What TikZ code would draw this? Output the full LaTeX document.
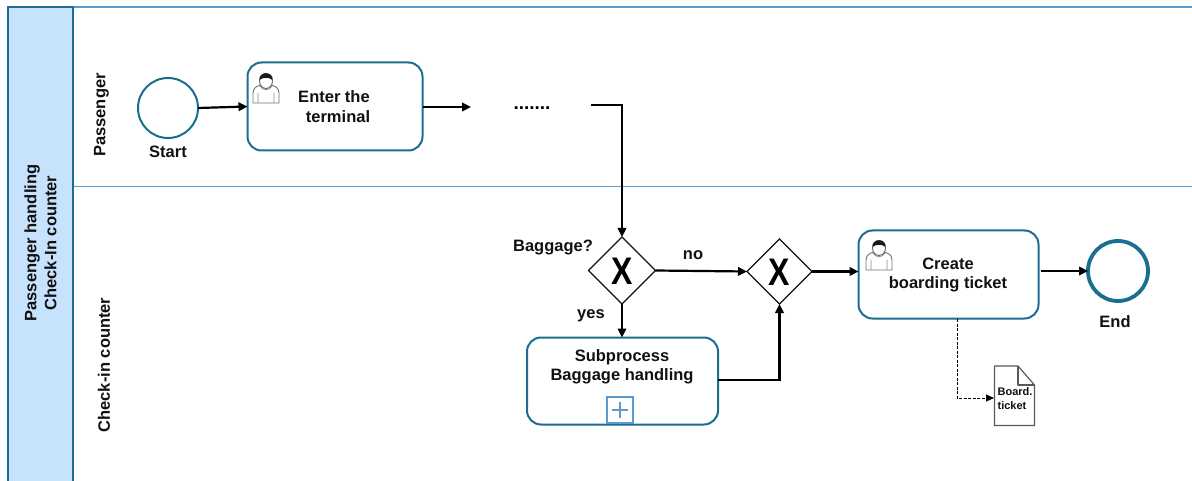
\documentclass[tikz,border=0pt]{standalone}
\usepackage{fontspec}
\setmainfont{Liberation Sans}
\usetikzlibrary{arrows.meta,shapes.geometric}
\definecolor{teal1}{HTML}{1A6E90}
\definecolor{lane}{HTML}{5B9BD0}
\definecolor{head}{HTML}{C6E2FC}
\definecolor{ink}{HTML}{111111}
\tikzset{
  x=1pt,y=-1pt,
  txt/.style={font=\bfseries\fontsize{16.5}{20}\selectfont,text=ink,align=center,inner sep=0pt},
  small/.style={font=\bfseries\fontsize{11}{14}\selectfont,text=ink,align=left,inner sep=0pt},
  task/.style={draw=teal1,line width=2pt,rounded corners=14pt,fill=white,inner sep=0pt,outer sep=0pt,anchor=north west},
  ev/.style={circle,draw=teal1,fill=white,inner sep=0pt,outer sep=0pt},
  gate/.style={diamond,draw=ink,line width=1.1pt,fill=white,inner sep=0pt,outer sep=0pt,aspect=1},
  flow/.style={draw=black,line width=2.2pt,-{Triangle[length=9pt,width=8.5pt]}},
  gx/.style={font=\bfseries\fontsize{32}{32}\selectfont,inner sep=0pt,yscale=1.2},
  pers/.pic={
    \draw[black!55,line width=.9pt,fill=white] (-13,15) -- (-13,5) .. controls (-13,-1) and (-8,-2) .. (-5,-3) -- (5,-3) .. controls (8,-2) and (13,-1) .. (13,5) -- (13,15) -- cycle;
    \draw[black!45,line width=.8pt] (-8,15) -- (-8,5) (8,15) -- (8,5) (-6,-2) .. controls (-3,3) and (3,3) .. (6,-2);
    \draw[black!60,line width=.9pt,fill=white] (0,-7) ellipse (6.5 and 7.5);
    \fill[black!90] (-6.5,-8) .. controls (-7.5,-17) and (7.5,-17) .. (6.5,-8) .. controls (3,-11) and (-3,-11) .. (-6.5,-8) -- cycle;
  }
}
\begin{document}
\begin{tikzpicture}
\useasboundingbox (0,0) rectangle (1192,481);
\fill[white] (0,0) rectangle (1192,481);
% lanes
\draw[draw=lane,line width=2pt] (73,7) -- (1192,7);
\draw[draw=lane,line width=1.9pt] (73,186.5) -- (1192,186.5);
\draw[draw=teal1,line width=2pt,fill=head] (7.5,490) -- (7.5,7) -- (73,7) -- (73,490);
\node[txt,rotate=90] (pool) at (40.5,243) {Passenger handling\\[0pt]Check-In counter};
\node[txt,rotate=90] (l1) at (101.5,115) {Passenger};
\node[txt,rotate=90] (l2) at (104,365) {Check-in counter};
% events
\node[ev,line width=2pt,minimum size=60pt] (start) at (168,108) {};
\node[txt,anchor=center] (startl) at (168,152) {Start};
\node[ev,line width=3.8pt,minimum size=60pt] (end) at (1118,271) {};
\node[txt,anchor=center] (endl) at (1115,322) {End};
% tasks
\node[task,minimum width=175pt,minimum height=88pt] (enter) at (247.5,62.5) {};
\node[txt] (enter1) at (334,97) {Enter the};
\node[txt] (enter2) at (338,117) {terminal};
\pic at (266,88) {pers};
\node[task,minimum width=180pt,minimum height=88pt] (create) at (858.5,230.5) {};
\node[txt] (create1) at (948,264) {Create};
\node[txt] (create2) at (948,284) {boarding ticket};
\pic at (879,255) {pers};
\node[task,minimum width=191pt,minimum height=87pt] (sub) at (527,337.5) {};
\node[txt] at (622,367) {Subprocess\\[-1pt]Baggage handling};
\node[draw=lane,line width=2.6pt,fill=white,minimum size=26pt,inner sep=0pt,outer sep=0pt] (plus) at (620,410) {};
\draw[draw=lane,line width=2.2pt] (plus.center) +(-8,0) -- +(8,0) (plus.center) +(0,-8) -- +(0,8);
% gateways
\node[gate,minimum size=67pt] (g1) at (622,270.5) {};
\node[gx] (x1) at (622,271) {X};
\node[gate,minimum size=65pt] (g2) at (779.5,271.5) {};
\node[gx] (x2) at (779.5,272) {X};
% document
\draw[draw=black!65,line width=1.2pt,fill=white,line join=round] (994.5,366) -- (1018,366) -- (1034.5,385) -- (1034.5,425.5) -- (994.5,425.5) -- cycle;
\draw[draw=black!65,line width=1.2pt,line join=round] (1018,366) -- (1018,385) -- (1034.5,385);
\coordinate (doc) at (994,398);
\node[small] (doctxt) at (1015,399) {Board.\\ticket};
% dots and free ends
\node[font=\bfseries\fontsize{19}{19}\selectfont,inner sep=0pt] (dots) at (532,108) {.......};
\coordinate (o1) at (471,107);
\coordinate (o2) at (591,105);
% connectors
\draw[flow] (start.east) -- (enter.west);
\draw[flow] (enter.east |- o1) -- (o1);
\draw[flow] (o2) -- (g1.north |- o2) -- (g1.north);
\draw[flow] (g1.east) -- (g2.west);
\draw[flow] (g1.south) -- (sub.north -| g1.south);
\draw[flow] (sub.east |- 0,380) -- (g2.south |- 0,380) -- (g2.south);
\draw[flow] (g2.east) -- (create.west |- g2.east);
\draw[flow] (1041,271) -- (end.west);
\draw[draw=black,line width=1pt,dash pattern=on 3pt off 1.5pt,-{Triangle[length=8pt,width=7pt]}] (957,319) -- (957,398) -- (doc);
% labels
\node[txt] (bag) at (553,247) {Baggage?};
\node[txt] (no) at (693,255) {no};
\node[txt] (yes) at (591,316) {yes};
\end{tikzpicture}
\end{document}
